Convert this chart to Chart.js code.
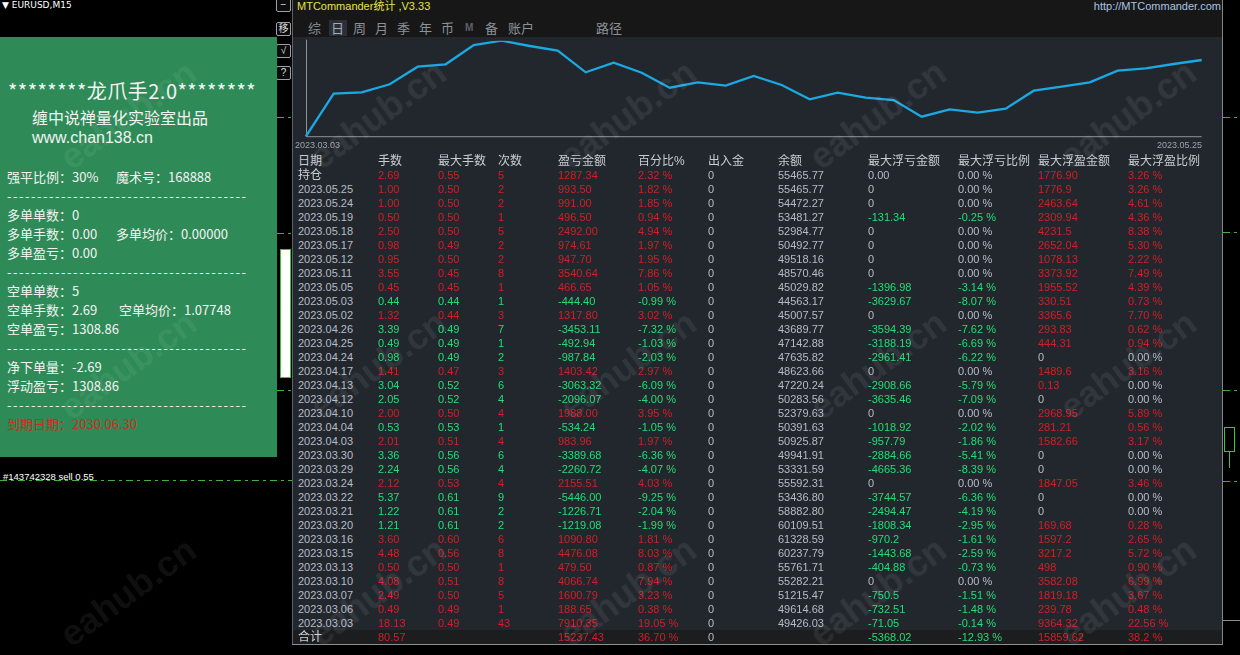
<!DOCTYPE html>
<html><head><meta charset="utf-8">
<script src="https://cdn.jsdelivr.net/npm/chart.js@4.4.0/dist/chart.umd.min.js"></script>
<style>
html,body{margin:0;padding:0;background:#000;width:1240px;height:655px;overflow:hidden;}
body{position:relative;font-family:"Liberation Sans",Arial,sans-serif;}
.a{position:absolute;white-space:nowrap;}
.cjk{font-family:"Noto Sans CJK SC","Noto Sans",sans-serif;}
.lcjk{font-family:"Liberation Sans","Noto Sans CJK SC",sans-serif;}
.gp{color:#f3f3f3;font-size:13px;height:19px;line-height:19px;}
.dash{letter-spacing:1.5px;}
.btn{position:absolute;left:276px;width:13px;height:12px;border:1px solid #9ea2a8;border-radius:2px;background:#0c0c0c;color:#d8d8d8;font-size:10px;line-height:12px;text-align:center;}
.gd{position:absolute;height:1px;background:repeating-linear-gradient(90deg,#3cb43c 0 7px,transparent 7px 11px,#3cb43c 11px 14px,transparent 14px 18px);}
.cell{position:absolute;white-space:nowrap;height:14px;line-height:14px;font-size:11px;}
.hd{font-size:12px;color:#c8ccd2;font-family:"Liberation Sans","Noto Sans CJK SC",sans-serif;}
.tab{position:absolute;top:20px;height:16px;line-height:16px;font-size:13px;color:#8b9199;font-family:"Noto Sans CJK SC",sans-serif;}
.wm{position:absolute;font:bold 36px "Liberation Sans",Arial,sans-serif;color:rgba(255,255,255,0.07);transform:translate(-50%,-50%) rotate(-36deg);pointer-events:none;white-space:nowrap;}
</style></head><body>
<script>
// ===== Data =====
const dates = ['2023.05.25','2023.05.24','2023.05.19','2023.05.18','2023.05.17','2023.05.12','2023.05.11','2023.05.05','2023.05.03','2023.05.02','2023.04.26','2023.04.25','2023.04.24','2023.04.17','2023.04.13','2023.04.12','2023.04.10','2023.04.04','2023.04.03','2023.03.30','2023.03.29','2023.03.24','2023.03.22','2023.03.21','2023.03.20','2023.03.16','2023.03.15','2023.03.13','2023.03.10','2023.03.07','2023.03.06','2023.03.03'];
const lots = ['1.00','1.00','0.50','2.50','0.98','0.95','3.55','0.45','0.44','1.32','3.39','0.49','0.98','1.41','3.04','2.05','2.00','0.53','2.01','3.36','2.24','2.12','5.37','1.22','1.21','3.60','4.48','0.50','4.08','2.49','0.49','18.13'];
const maxLots = ['0.50','0.50','0.50','0.50','0.49','0.50','0.45','0.45','0.44','0.44','0.49','0.49','0.49','0.47','0.52','0.52','0.50','0.53','0.51','0.56','0.56','0.53','0.61','0.61','0.61','0.60','0.56','0.50','0.51','0.50','0.49','0.49'];
const counts = ['2','2','1','5','2','2','8','1','1','3','7','1','2','3','6','4','4','1','4','6','4','4','9','2','2','6','8','1','8','5','1','43'];
const pnl = ['993.50','991.00','496.50','2492.00','974.61','947.70','3540.64','466.65','-444.40','1317.80','-3453.11','-492.94','-987.84','1403.42','-3063.32','-2096.07','1988.00','-534.24','983.96','-3389.68','-2260.72','2155.51','-5446.00','-1226.71','-1219.08','1090.80','4476.08','479.50','4066.74','1600.79','188.65','7910.35'];
const pct = ['1.82 %','1.85 %','0.94 %','4.94 %','1.97 %','1.95 %','7.86 %','1.05 %','-0.99 %','3.02 %','-7.32 %','-1.03 %','-2.03 %','2.97 %','-6.09 %','-4.00 %','3.95 %','-1.05 %','1.97 %','-6.36 %','-4.07 %','4.03 %','-9.25 %','-2.04 %','-1.99 %','1.81 %','8.03 %','0.87 %','7.94 %','3.23 %','0.38 %','19.05 %'];
const inOut = ['0','0','0','0','0','0','0','0','0','0','0','0','0','0','0','0','0','0','0','0','0','0','0','0','0','0','0','0','0','0','0','0'];
const balance = ['55465.77','54472.27','53481.27','52984.77','50492.77','49518.16','48570.46','45029.82','44563.17','45007.57','43689.77','47142.88','47635.82','48623.66','47220.24','50283.56','52379.63','50391.63','50925.87','49941.91','53331.59','55592.31','53436.80','58882.80','60109.51','61328.59','60237.79','55761.71','55282.21','51215.47','49614.68','49426.03'];
const floatLoss = ['0','0','-131.34','0','0','0','0','-1396.98','-3629.67','0','-3594.39','-3188.19','-2961.41','0','-2908.66','-3635.46','0','-1018.92','-957.79','-2884.66','-4665.36','0','-3744.57','-2494.47','-1808.34','-970.2','-1443.68','-404.88','0','-750.5','-732.51','-71.05'];
const floatLossPct = ['0.00 %','0.00 %','-0.25 %','0.00 %','0.00 %','0.00 %','0.00 %','-3.14 %','-8.07 %','0.00 %','-7.62 %','-6.69 %','-6.22 %','0.00 %','-5.79 %','-7.09 %','0.00 %','-2.02 %','-1.86 %','-5.41 %','-8.39 %','0.00 %','-6.36 %','-4.19 %','-2.95 %','-1.61 %','-2.59 %','-0.73 %','0.00 %','-1.51 %','-1.48 %','-0.14 %'];
const floatProfit = ['1776.9','2463.64','2309.94','4231.5','2652.04','1078.13','3373.92','1955.52','330.51','3365.6','293.83','444.31','0','1489.6','0.13','0','2968.95','281.21','1582.66','0','0','1847.05','0','0','169.68','1597.2','3217.2','498','3582.08','1819.18','239.78','9364.32'];
const floatProfitPct = ['3.26 %','4.61 %','4.36 %','8.38 %','5.30 %','2.22 %','7.49 %','4.39 %','0.73 %','7.70 %','0.62 %','0.94 %','0.00 %','3.16 %','0.00 %','0.00 %','5.89 %','0.56 %','3.17 %','0.00 %','0.00 %','3.46 %','0.00 %','0.00 %','0.28 %','2.65 %','5.72 %','0.90 %','6.99 %','3.67 %','0.48 %','22.56 %'];
const headers = ['日期','手数','最大手数','次数','盈亏金额','百分比%','出入金','余额','最大浮亏金额','最大浮亏比例','最大浮盈金额','最大浮盈比例'];
const holdRow = ['持仓','2.69','0.55','5','1287.34','2.32 %','0','55465.77','0.00','0.00 %','1776.90','3.26 %'];
const totalRow = ['合计','80.57','','','15237.43','36.70 %','0','','-5368.02','-12.93 %','15859.62','38.2 %'];
// equity curve (start point + one point per day, oldest first)
const curveLabels = ['start'].concat(dates.slice().reverse());
const curveValues = [39050,49029,49354,51211,55295,55852,60331,61329,60099,59008,53996,56223,53903,50422,51675,50886,53137,51048,47730,49261,48101,47567,43692,45409,44620,45548,49725,50654,51675,54367,54924,55922,56850];
const curveMin = 39050, curveMax = 61329;
</script>

<!-- MT4 background pieces -->
<div class="a" style="left:2px;top:0;font:9px 'DejaVu Sans',sans-serif;color:#fff;line-height:11px;">▼ EURUSD,M15</div>
<div class="btn" style="top:-2px;">−</div>
<div class="btn lcjk" style="top:22px;">移</div>
<div class="btn" style="top:44px;">√</div>
<div class="btn" style="top:66px;">?</div>
<div class="gd" style="left:277px;top:117px;width:15px;"></div>
<div class="gd" style="left:277px;top:233px;width:15px;"></div>
<div class="gd" style="left:277px;top:390px;width:15px;"></div>
<div class="gd" style="left:0px;top:480px;width:292px;"></div>
<div class="gd" style="left:1223px;top:117px;width:17px;"></div>
<div class="gd" style="left:1223px;top:232px;width:17px;"></div>
<div class="gd" style="left:1223px;top:390px;width:17px;"></div>
<div class="gd" style="left:1223px;top:481px;width:17px;"></div>
<div class="a" style="left:1223px;top:620px;width:17px;height:1px;background:#8d9096;"></div>
<div class="a" style="left:280px;top:249px;width:9px;height:127px;background:#fff;border:1px solid #3cc43c;"></div>
<div class="a" style="left:1224px;top:427px;width:9px;height:23px;background:#000;border:1px solid #3cc43c;"></div>
<div class="a" style="left:1229px;top:451px;width:1px;height:17px;background:#3cc43c;"></div>
<div class="a" style="left:3px;top:471px;font:9.5px 'Liberation Sans',Arial,sans-serif;color:#fff;line-height:11px;">#143742328 sell 0.55</div>

<!-- Green info panel -->
<div class="a" style="left:0;top:37px;width:277px;height:420px;background:#2e8b57;"></div>
<div class="a cjk" style="left:8px;top:78px;font-size:20px;line-height:26px;letter-spacing:0.5px;color:#f3f3f3;">********龙爪手2.0********</div>
<div class="a lcjk" style="left:32px;top:110px;font-size:16px;line-height:18px;color:#f3f3f3;">缠中说禅量化实验室出品</div>
<div class="a" style="left:32px;top:129px;font-size:16px;line-height:18px;color:#f3f3f3;">www.chan138.cn</div>
<div id="gpanel"></div>

<!-- MTCommander panel -->
<div class="a" style="left:292px;top:0;width:931px;height:37px;background:#171717;"></div>
<div class="a" style="left:292px;top:37px;width:931px;height:608px;background:#22272e;"></div>
<div class="a" style="left:293px;top:630px;width:929px;height:14px;background:#1c1d1f;"></div>
<div class="a" style="left:292px;top:0;width:1px;height:645px;background:#5d626a;"></div>
<div class="a" style="left:1222px;top:0;width:1px;height:645px;background:#80858c;"></div>
<div class="a" style="left:292px;top:644px;width:931px;height:1px;background:#8a8f96;"></div>
<div class="a lcjk" style="left:297px;top:0;font-size:11px;line-height:13px;color:#e6e444;">MTCommander统计 ,V3.33</div>
<div class="a" style="left:1000px;top:0;font-size:11px;line-height:13px;color:#a9c4e4;width:221px;text-align:right;">http://MTCommander.com</div>
<div class="a" style="left:329px;top:20px;width:18px;height:16px;background:#2b3038;"></div>
<div class="tab" style="left:308px;">综</div>
<div class="tab" style="left:331px;color:#a5abb3;">日</div>
<div class="tab" style="left:353px;">周</div>
<div class="tab" style="left:375px;">月</div>
<div class="tab" style="left:397px;">季</div>
<div class="tab" style="left:419px;">年</div>
<div class="tab" style="left:441px;">币</div>
<div class="tab" style="left:465px;font:bold 10px 'Liberation Sans',sans-serif;color:#5c6168;line-height:16px;">M</div>
<div class="tab" style="left:485px;">备</div>
<div class="tab" style="left:508px;">账户</div>
<div class="tab" style="left:596px;">路径</div>

<div class="a" style="left:300px;top:36px;width:910px;height:106px;"><canvas id="eq" width="910" height="106"></canvas></div>
<div id="xl0" class="a" style="left:295px;top:139px;font-size:9px;line-height:12px;color:#9ea3aa;"></div>
<div id="xl1" class="a" style="left:1157px;top:139px;font-size:9px;line-height:12px;color:#9ea3aa;"></div>

<div id="table"></div>
<div id="wms"></div>

<script>
// Green panel lines
(function(){
  const g = document.getElementById('gpanel');
  const D = '----------------------------------------';
  const lines = [
    [176,[[7,'强平比例：30%'],[116,'魔术号：168888']]],
    [195,[[7,D,'dash']]],
    [214,[[7,'多单单数：0']]],
    [233,[[7,'多单手数：0.00'],[116,'多单均价：0.00000']]],
    [252,[[7,'多单盈亏：0.00']]],
    [271,[[7,D,'dash']]],
    [290,[[7,'空单单数：5']]],
    [309,[[7,'空单手数：2.69'],[119,'空单均价：1.07748']]],
    [328,[[7,'空单盈亏：1308.86']]],
    [347,[[7,D,'dash']]],
    [366,[[7,'净下单量：-2.69']]],
    [385,[[7,'浮动盈亏：1308.86']]],
    [404,[[7,D,'dash']]],
    [423,[[7,'到期日期：2030.06.30','red']]]
  ];
  lines.forEach(([cy,parts])=>{
    parts.forEach(([x,t,cls])=>{
      const d=document.createElement('div');
      d.className='a cjk gp'+(cls==='dash'?' dash':'');
      d.style.left=x+'px'; d.style.top=(cy-9.5)+'px';
      if(cls==='red') d.style.color='#c8301e';
      d.textContent=t; g.appendChild(d);
    });
  });
})();

// Table
(function(){
  const T=document.getElementById('table');
  const COLS=[298,378,438,498,558,638,708,778,868,958,1038,1128];
  const RED='#d21f27', GREEN='#24dc74', GREY='#b7bcc4';
  const valColor=s=>{const v=parseFloat(s); if(isNaN(v)||v===0) return GREY; return v>0?RED:GREEN;};
  function cell(x,cy,text,color,extra){
    const d=document.createElement('div'); d.className='cell'+(extra?' '+extra:'');
    d.style.left=x+'px'; d.style.top=(cy-7)+'px'; if(color) d.style.color=color;
    d.textContent=text; T.appendChild(d);
  }
  headers.forEach((h,i)=>cell(COLS[i],161,h,null,'hd'));
  function row(cy,vals,first){
    const sc=valColor(vals[4]);
    cell(COLS[0],cy,vals[0],first?'#cfd2d7':GREY,first?'hd':'');
    for(let i=1;i<=5;i++) if(vals[i]!=='') cell(COLS[i],cy,vals[i],sc);
    cell(COLS[6],cy,vals[6],GREY);
    if(vals[7]!=='') cell(COLS[7],cy,vals[7],GREY);
    for(let i=8;i<=11;i++) if(vals[i]!=='') cell(COLS[i],cy,vals[i],valColor(vals[i]));
  }
  row(175,holdRow,true);
  dates.forEach((d,k)=>row(189+14*k,[d,lots[k],maxLots[k],counts[k],pnl[k],pct[k],inOut[k],balance[k],floatLoss[k],floatLossPct[k],floatProfit[k],floatProfitPct[k]],false));
  row(637,totalRow,true);
})();

// Chart x labels
document.getElementById('xl0').textContent=curveLabels[1];
document.getElementById('xl1').textContent=curveLabels[curveLabels.length-1];

// Equity chart
const axisPlugin={id:'axisLines',beforeDatasetsDraw(c){
  const a=c.chartArea,ctx=c.ctx; ctx.save(); ctx.strokeStyle='#8e939a'; ctx.lineWidth=1;
  ctx.beginPath(); ctx.moveTo(Math.round(a.left)+0.5,a.top-1); ctx.lineTo(Math.round(a.left)+0.5,a.bottom);
  ctx.lineTo(a.right,a.bottom); ctx.stroke(); ctx.restore();
}};
new Chart(document.getElementById('eq'),{
  type:'line',
  data:{labels:curveLabels,datasets:[{data:curveValues,borderColor:'#1aa9e2',borderWidth:2.3,pointRadius:0,tension:0,fill:false}]},
  options:{responsive:false,animation:false,
    layout:{padding:{left:5.7,top:4.7,right:8.3,bottom:5.3}},
    plugins:{legend:{display:false},tooltip:{enabled:false}},
    scales:{x:{display:false},y:{display:false,min:curveMin,max:curveMax}}},
  plugins:[axisPlugin]
});

// Watermarks
(function(){
  const w=document.getElementById('wms');
  [115,365,592].forEach(y=>[128,378,628,878,1128].forEach(x=>{
    const d=document.createElement('div'); d.className='wm'; d.style.left=x+'px'; d.style.top=y+'px';
    d.textContent='eahub.cn'; w.appendChild(d);
  }));
})();
</script>
</body></html>
